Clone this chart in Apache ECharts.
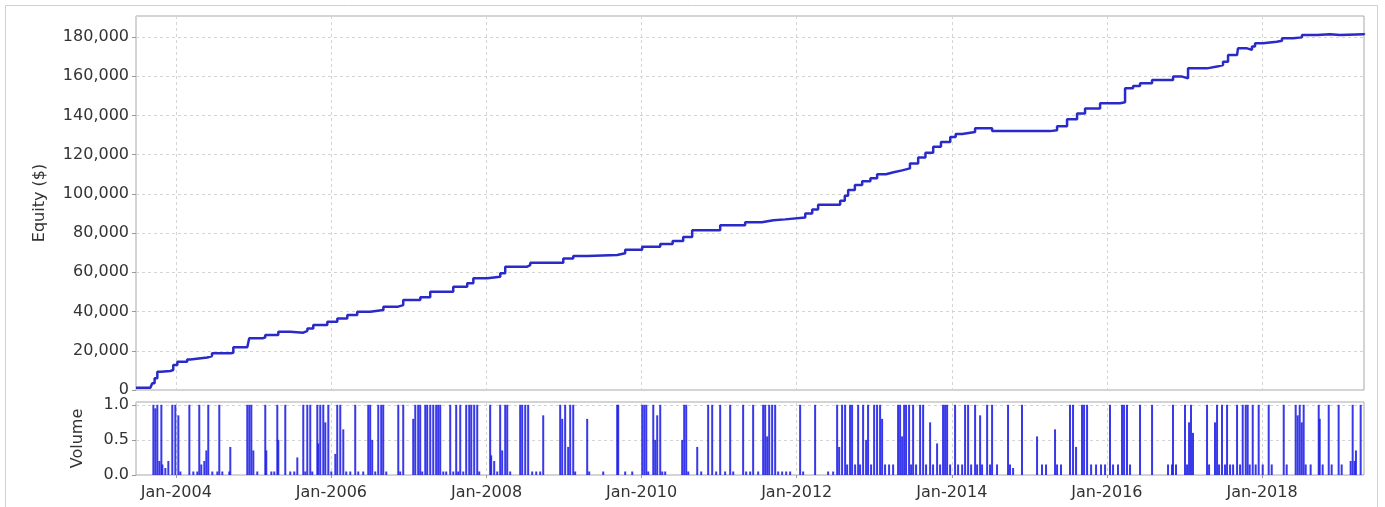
<!DOCTYPE html>
<html><head><meta charset="utf-8">
<script src="https://cdn.jsdelivr.net/npm/echarts@6/dist/echarts.min.js"></script>
<style>html,body{margin:0;padding:0;background:#fff}#c{width:1385px;height:507px}</style>
</head><body><div id="c"></div>
<script>
// x values are fractional years
const tickYears = [2004, 2006, 2008, 2010, 2012, 2014, 2016, 2018];
const xRange = [2003.48, 2019.315];

const equityYears = [2003.48,2003.665,2003.69,2003.72,2003.755,2003.80,2003.923,2003.96,2004.013,2004.14,2004.18,2004.40,2004.46,2004.70,2004.735,2004.915,2004.94,2005.12,2005.147,2005.315,2005.47,2005.637,2005.69,2005.766,2005.947,2006.076,2006.205,2006.333,2006.50,2006.67,2006.86,2006.926,2007.146,2007.274,2007.571,2007.751,2007.83,2008.01,2008.177,2008.241,2008.525,2008.564,2008.99,2009.118,2009.30,2009.685,2009.788,2010.007,2010.24,2010.40,2010.536,2010.652,2011.013,2011.335,2011.55,2011.70,2011.85,2012.11,2012.20,2012.276,2012.56,2012.62,2012.663,2012.75,2012.844,2012.95,2013.037,2013.15,2013.25,2013.36,2013.46,2013.566,2013.66,2013.76,2013.86,2013.98,2014.05,2014.133,2014.30,2014.52,2015.267,2015.357,2015.486,2015.615,2015.718,2015.912,2016.17,2016.234,2016.337,2016.427,2016.582,2016.853,2016.97,2017.046,2017.29,2017.42,2017.497,2017.562,2017.678,2017.69,2017.807,2017.87,2017.91,2018.013,2018.19,2018.258,2018.40,2018.515,2018.709,2018.877,2019.006,2019.315];
const equityValues = [1200,1200,3500,6000,9300,9700,10200,12700,14400,15600,16600,17300,18700,19000,21800,21800,26400,26900,28000,29700,29200,30200,31400,33100,34800,36500,38200,39900,40800,42500,43300,45900,47300,50100,52700,54400,57000,57800,59500,62900,63700,64900,67100,68300,68800,69700,71500,73000,74500,76000,78000,81500,84000,85500,86500,87000,88000,90000,92000,94500,96500,99000,102000,104500,106500,108000,110000,111000,112000,113000,115500,118500,121000,124000,126500,129000,130500,131500,133500,132000,132500,134500,138000,141000,143500,146200,146700,153800,155000,156400,158100,159800,159000,164000,164900,165700,167400,170800,171700,174200,173400,175100,176800,177600,178100,179300,179800,181000,181400,181000,181400,181900];

const volumeYears = [2003.704,2003.729,2003.755,2003.781,2003.807,2003.82,2003.858,2003.897,2003.948,2003.987,2004.026,2004.052,2004.168,2004.219,2004.271,2004.296,2004.322,2004.361,2004.387,2004.412,2004.464,2004.529,2004.554,2004.593,2004.683,2004.696,2004.915,2004.941,2004.967,2004.993,2005.044,2005.147,2005.16,2005.225,2005.263,2005.302,2005.315,2005.405,2005.469,2005.521,2005.56,2005.637,2005.663,2005.689,2005.727,2005.753,2005.818,2005.83,2005.856,2005.895,2005.921,2005.96,2005.998,2006.05,2006.075,2006.114,2006.153,2006.191,2006.243,2006.307,2006.346,2006.41,2006.475,2006.5,2006.526,2006.565,2006.604,2006.642,2006.668,2006.707,
2006.862,2006.887,2006.926,2007.055,2007.081,2007.119,2007.145,2007.171,2007.21,2007.235,2007.274,2007.313,2007.351,2007.377,2007.403,2007.442,2007.48,2007.532,2007.571,2007.609,2007.635,2007.661,2007.7,2007.738,2007.777,2007.803,2007.841,2007.88,2007.906,2008.047,2008.06,2008.099,2008.138,2008.176,2008.202,2008.241,2008.267,2008.305,2008.434,2008.46,2008.499,2008.537,2008.589,2008.641,2008.692,2008.731,2008.95,2008.976,2009.014,2009.053,2009.079,2009.118,2009.143,2009.298,2009.324,2009.505,2009.685,2009.698,2009.788,2009.879,2010.008,2010.034,2010.06,2010.085,2010.15,2010.175,2010.201,2010.24,2010.266,2010.304,2010.523,2010.549,2010.575,2010.601,2010.717,2010.768,2010.858,2010.91,2010.961,2011.013,2011.077,2011.142,2011.181,2011.309,2011.348,2011.4,2011.438,2011.503,2011.567,2011.593,2011.619,2011.645,2011.683,2011.722,2011.761,2011.812,2011.864,2011.915,2012.044,2012.083,2012.237,2012.405,2012.47,2012.521,2012.547,2012.585,2012.624,2012.65,2012.688,2012.714,2012.753,2012.792,2012.817,2012.856,2012.895,2012.92,2012.959,2012.998,2013.036,
2013.075,2013.101,2013.139,2013.191,2013.243,2013.307,2013.333,2013.359,2013.385,2013.41,2013.449,2013.475,2013.501,2013.539,2013.591,2013.63,2013.668,2013.72,2013.758,2013.81,2013.849,2013.887,2013.913,2013.939,2013.978,2014.042,2014.081,2014.133,2014.171,2014.21,2014.249,2014.3,2014.326,2014.365,2014.39,2014.455,2014.493,2014.519,2014.583,2014.725,2014.75,2014.79,2014.905,2015.099,2015.163,2015.215,2015.331,2015.357,2015.408,2015.524,2015.563,2015.602,2015.679,2015.705,2015.744,2015.796,2015.86,2015.924,2015.976,2016.04,2016.079,2016.143,2016.195,2016.221,2016.259,2016.298,2016.427,2016.582,2016.788,2016.839,2016.852,2016.891,2017.007,2017.033,2017.059,2017.084,2017.11,2017.291,2017.317,2017.394,2017.42,2017.446,2017.484,2017.523,2017.549,2017.588,2017.627,2017.678,2017.717,2017.751,2017.79,2017.815,2017.841,2017.88,2017.918,2017.957,2018.009,2018.086,2018.125,2018.28,2018.318,2018.434,2018.46,2018.486,2018.512,2018.537,2018.563,2018.627,2018.731,2018.744,2018.782,2018.86,2018.898,2018.988,2019.027,2019.143,2019.169,2019.195,2019.211,2019.272];
const volumeValues = [1.0,0.95,1.0,0.2,1.0,0.15,0.1,0.2,1.0,1.0,0.85,0.05,1.0,0.05,0.05,1.0,0.15,0.2,0.35,1.0,0.05,0.05,1.0,0.05,0.05,0.4,1.0,1.0,1.0,0.35,0.05,1.0,0.35,0.05,0.05,1.0,0.5,1.0,0.05,0.05,0.25,1.0,0.05,1.0,1.0,0.05,1.0,0.45,1.0,1.0,0.75,1.0,0.05,0.3,1.0,1.0,0.65,0.05,0.05,1.0,0.05,0.05,1.0,1.0,0.5,0.05,1.0,1.0,1.0,0.05,
1.0,0.05,1.0,0.8,1.0,1.0,1.0,0.05,1.0,1.0,1.0,1.0,1.0,1.0,1.0,0.05,0.05,1.0,0.05,1.0,0.05,1.0,0.05,1.0,1.0,1.0,1.0,1.0,0.05,1.0,0.28,0.2,0.05,1.0,0.35,1.0,1.0,0.05,1.0,1.0,1.0,1.0,0.05,0.05,0.05,0.85,1.0,0.8,1.0,0.4,1.0,1.0,0.05,0.8,0.05,0.05,1.0,1.0,0.05,0.05,1.0,1.0,1.0,0.05,1.0,0.5,0.85,1.0,0.05,0.05,0.5,1.0,1.0,0.05,0.4,0.05,1.0,1.0,0.05,1.0,0.05,1.0,0.05,1.0,0.05,0.05,1.0,0.05,1.0,1.0,0.55,1.0,1.0,1.0,0.05,0.05,0.05,0.05,1.0,0.05,1.0,0.05,0.05,1.0,0.4,1.0,1.0,0.15,1.0,1.0,0.15,1.0,0.15,1.0,0.5,1.0,0.15,1.0,1.0,
1.0,0.8,0.15,0.15,0.15,1.0,1.0,0.55,1.0,1.0,1.0,0.15,1.0,0.15,1.0,1.0,0.15,0.75,0.15,0.45,0.15,1.0,1.0,1.0,0.15,1.0,0.15,0.15,1.0,1.0,0.15,1.0,0.15,0.85,0.15,1.0,0.15,1.0,0.15,1.0,0.15,0.1,1.0,0.55,0.15,0.15,0.65,0.15,0.15,1.0,1.0,0.4,1.0,1.0,1.0,0.15,0.15,0.15,0.15,1.0,0.15,0.15,1.0,1.0,1.0,0.15,1.0,1.0,0.15,0.15,1.0,0.15,1.0,0.15,0.75,1.0,0.6,1.0,0.15,0.75,1.0,0.15,1.0,0.15,1.0,0.15,0.15,1.0,0.15,1.0,1.0,1.0,0.15,1.0,0.15,1.0,0.15,1.0,0.15,1.0,0.15,1.0,0.85,1.0,0.75,1.0,0.15,0.15,1.0,0.8,0.15,1.0,0.15,1.0,0.15,0.2,1.0,0.2,0.35,1.0];

const equityData = equityYears.map((y, i) => [y, equityValues[i]]);
const volumeData = volumeYears.map((y, i) => [y, volumeValues[i]]);

const FONT = 'DejaVu Sans';
const TXT = '#333';
const gridLine = { show: true, lineStyle: { color: '#d4d4d4', type: [3, 3], width: 1 } };

const chart = echarts.init(document.getElementById('c'), null, { renderer: 'canvas' });
chart.setOption({
  animation: false,
  backgroundColor: '#fff',
  graphic: [{
    type: 'rect', silent: true, z: -10,
    shape: { x: 5.5, y: 5.5, width: 1372, height: 520 },
    style: { fill: '#fff', stroke: '#d0d0d0', lineWidth: 1 }
  }],
  grid: [
    { left: 136, top: 16, width: 1228, height: 374, show: true, borderColor: '#a8a8a8', borderWidth: 1, backgroundColor: '#fff' },
    { left: 136, top: 402, width: 1228, height: 73, show: true, borderColor: '#a8a8a8', borderWidth: 1, backgroundColor: '#fff' }
  ],
  xAxis: [
    { type: 'value', gridIndex: 0, min: xRange[0], max: xRange[1],
      axisLine: { show: false }, axisLabel: { show: false },
      axisTick: { show: false, customValues: tickYears },
      splitLine: gridLine },
    { type: 'value', gridIndex: 1, min: xRange[0], max: xRange[1],
      axisLine: { show: false },
      axisTick: { show: true, length: 3, lineStyle: { color: '#999' }, customValues: tickYears },
      axisLabel: { customValues: tickYears, margin: 10, fontFamily: FONT, fontSize: 16, color: TXT,
        formatter: v => 'Jan-' + Math.round(v) },
      splitLine: gridLine }
  ],
  yAxis: [
    { type: 'value', gridIndex: 0, min: 0, max: 190700, interval: 20000,
      name: 'Equity ($)', nameLocation: 'middle', nameGap: 88, nameRotate: 90,
      nameTextStyle: { fontFamily: FONT, fontSize: 16, color: TXT },
      axisLine: { show: false },
      axisTick: { show: true, length: 4, lineStyle: { color: '#999' } },
      axisLabel: { margin: 7, fontFamily: FONT, fontSize: 16, color: TXT, showMaxLabel: false,
        formatter: v => v.toLocaleString('en-US') },
      splitLine: gridLine },
    { type: 'value', gridIndex: 1, min: 0, max: 1.04, interval: 0.5,
      name: 'Volume', nameLocation: 'middle', nameGap: 50, nameRotate: 90,
      nameTextStyle: { fontFamily: FONT, fontSize: 16, color: TXT },
      axisLine: { show: false },
      axisTick: { show: true, length: 4, lineStyle: { color: '#999' } },
      axisLabel: { margin: 7, fontFamily: FONT, fontSize: 16, color: TXT, showMaxLabel: false,
        formatter: v => v.toFixed(1) },
      splitLine: gridLine }
  ],
  series: [
    { type: 'line', xAxisIndex: 0, yAxisIndex: 0, data: equityData, step: 'end',
      showSymbol: false, lineStyle: { color: '#2a2ac8', width: 2.5 } },
    { type: 'bar', xAxisIndex: 1, yAxisIndex: 1, data: volumeData, barWidth: 2,
      itemStyle: { color: 'rgba(30,30,230,0.88)' } }
  ]
});
</script></body></html>
